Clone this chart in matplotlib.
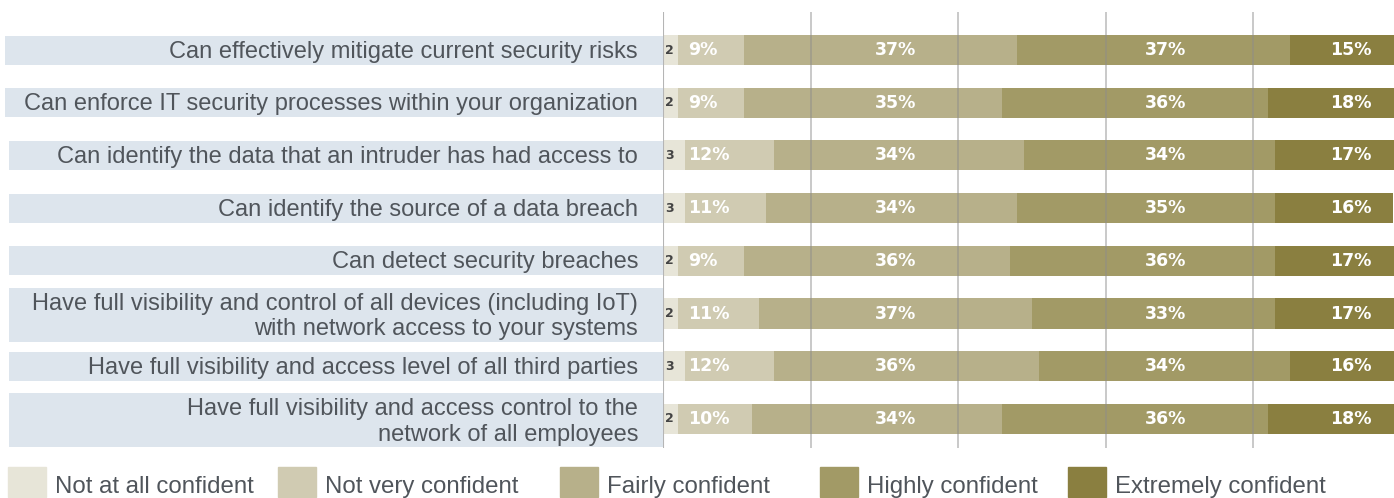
import matplotlib
matplotlib.use("Agg")
import matplotlib.pyplot as plt
from matplotlib.patches import Rectangle

statements = [
    "Can effectively mitigate current security risks",
    "Can enforce IT security processes within your organization",
    "Can identify the data that an intruder has had access to",
    "Can identify the source of a data breach",
    "Can detect security breaches",
    "Have full visibility and control of all devices (including IoT)\nwith network access to your systems",
    "Have full visibility and access level of all third parties",
    "Have full visibility and access control to the\nnetwork of all employees",
]
levels = ["Not at all confident", "Not very confident", "Fairly confident",
          "Highly confident", "Extremely confident"]

not_at_all = [2, 2, 3, 3, 2, 2, 3, 2]
not_very = [9, 9, 12, 11, 9, 11, 12, 10]
fairly = [37, 35, 34, 34, 36, 37, 36, 34]
highly = [37, 36, 34, 35, 36, 33, 34, 36]
extremely = [15, 18, 17, 16, 17, 17, 16, 18]

colors = ["#e7e5d8", "#d0cbb2", "#b7b08a", "#a29a66", "#8a7f40"]
label_bg = "#dde5ed"
text_col = "#50555b"

W, H = 1394, 498
fig = plt.figure(figsize=(W / 100, H / 100), dpi=100)

# rows are spaced ~52.7 px, first row centred at 50 px from the top
row_px = 52.7
top = -50 / row_px
bottom = (H - 50) / row_px
x0 = 663  # pixel where the bar axis starts
px_per_pct = 7.375

ax = fig.add_axes([x0 / W, 0, 1 - x0 / W, 1])
ax.set_xlim(0, (W - x0) / px_per_pct)
ax.set_ylim(bottom, top)
ax.axis("off")

series = [not_at_all, not_very, fairly, highly, extremely]
rows = list(range(len(statements)))
left = [0] * len(rows)
for vals, c in zip(series, colors):
    ax.barh(rows, vals, left=left, height=0.57, color=c, zorder=1)
    left = [l + v for l, v in zip(left, vals)]

# grid lines drawn over the bars
g0, g1 = (12 - 50) / row_px, (448 - 50) / row_px
ax.vlines([0], g0, g1, color="#b5b5b5", lw=1.5, zorder=3)
ax.vlines([20, 40, 60, 80], g0, g1, color="#8c8c8c", lw=1.3, alpha=0.5, zorder=3)

# value labels sit in fixed columns
bold = dict(va="center", fontweight="bold", color="white", zorder=4,
            fontsize=12.5)
for i in rows:
    ax.text(0.85, i, str(not_at_all[i]), ha="center", va="center",
            fontsize=9, fontweight="bold", color="#444444", zorder=4)
    ax.text(3.4, i, f"{not_very[i]}%", ha="left", **bold)
    ax.text(31.5, i, f"{fairly[i]}%", ha="center", **bold)
    ax.text(68.2, i, f"{highly[i]}%", ha="center", **bold)
    ax.text(93.2, i, f"{extremely[i]}%", ha="center", **bold)

# statement labels on shaded boxes
lab = fig.add_axes([0, 0, x0 / W, 1])
lab.set_xlim(0, x0)
lab.set_ylim(bottom, top)
lab.axis("off")
box_left = [5, 5, 9, 9, 9, 9, 9, 9]
for i, s in enumerate(statements):
    two_lines = "\n" in s
    h = 54 / row_px if two_lines else 29 / row_px
    yc = i + (1.5 / row_px if two_lines else 0)
    lab.barh(yc, x0 - box_left[i], left=box_left[i], height=h,
             color=label_bg, zorder=1)
    lab.text(638, yc + 1.5 / row_px, s, ha="right", va="center", fontsize=17,
             family="Liberation Sans", color=text_col, linespacing=1.2,
             zorder=2)

# legend row along the bottom edge
leg_x = [8, 278, 560, 820, 1068]
for xs, name, c in zip(leg_x, levels, colors):
    fig.patches.append(Rectangle((xs / W, 1 / H), 38 / W, 30 / H,
                                 transform=fig.transFigure, color=c))
    fig.text((xs + 47) / W, 5 / H, name, ha="left", va="baseline",
             fontsize=17.3, family="Liberation Sans", color=text_col)

fig.savefig("out.png", dpi=100)
